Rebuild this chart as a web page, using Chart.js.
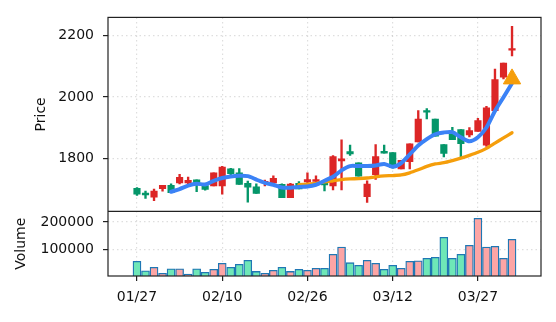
<!DOCTYPE html>
<html>
<head>
<meta charset="utf-8">
<script src="https://cdn.jsdelivr.net/npm/chart.js@4.4.1/dist/chart.umd.min.js"></script>
<style>
html, body { margin: 0; padding: 0; background: #fff; }
#wrap { width: 556px; height: 322px; }
</style>
</head>
<body>
<div id="wrap"><canvas id="myChart"></canvas></div>
<script>
// x tick positions (trading-day index) and their date labels
const tickPos = [0, 10, 20, 30, 40];
const tickLabels = ['01/27', '02/10', '02/26', '03/12', '03/27'];

// daily OHLC
const open  = [1701,1686,1672,1700,1711,1719,1719,1729,1710,1709,1709,1765,1752,1718,1706,1719,1719,1714,1671,1718,1722,1724,1725,1709,1791,1821,1785,1674,1746,1822,1818,1765,1788,1853,1955,1928,1844,1878,1893,1876,1887,1842,1955,2065,2153];
const close = [1682,1680,1692,1711,1687,1737,1727,1715,1698,1752,1771,1749,1714,1705,1685,1724,1734,1671,1715,1699,1730,1730,1712,1805,1798,1814,1741,1715,1805,1816,1770,1793,1847,1928,1950,1872,1815,1860,1847,1890,1923,1964,2057,2111,2157];
const high  = [1704,1692,1699,1711,1716,1747,1738,1729,1712,1752,1773,1767,1766,1725,1716,1728,1742,1716,1718,1723,1752,1742,1728,1808,1860,1843,1785,1726,1844,1843,1818,1793,1847,1955,1962,1928,1844,1901,1893,1900,1930,1969,2091,2111,2231];
const low   = [1678,1668,1661,1692,1687,1716,1716,1690,1695,1709,1682,1744,1714,1656,1685,1709,1716,1671,1671,1699,1719,1716,1693,1696,1696,1809,1741,1655,1730,1816,1767,1765,1765,1853,1928,1872,1804,1860,1805,1869,1887,1838,1955,2059,2134];
const volume = [58000,24000,36000,14500,31000,31000,12000,31000,18000,29000,50500,36000,47000,61500,21500,14500,25500,36000,21500,29000,25500,32500,32500,83000,109500,53000,43500,61500,50500,29000,43500,32500,58000,60000,68500,72500,144500,68500,83000,115500,213000,109500,112000,68500,137000];

// moving averages as drawn (5-day starts at index 4, 20-day at index 19)
const ma5Start = 4;
const ma5 = [1690,1699,1710,1716,1714,1726,1735,1740,1742,1741,1730,1719,1713,1704,1703,1706,1707,1713,1726,1739,1760,1774,1774,1774,1776,1781,1772,1784,1812,1841,1862,1878,1884,1885,1868,1855,1868,1900,1954,1999,2045];
const ma20Start = 19;
const ma20 = [1713,1715,1717,1722,1726,1730,1732,1733,1735,1739,1742,1743,1745,1752,1762,1773,1781,1785,1792,1800,1809,1819,1832,1849,1866,1883];

// signal marker
const signalIdx = 44;
const signalPrice = 2059;

const upColor = '#dc2626';
const downColor = '#059669';
const upVol = '#fca5a5';
const downVol = '#6ee7b7';

const isUp = open.map((o, i) => close[i] >= o);
const candleColors = isUp.map(u => u ? upColor : downColor);
const volColors = isUp.map(u => u ? upVol : downVol);

const font = { family: 'DejaVu Sans', size: 14 };
const gridColor = 'rgba(0,0,0,0.13)';

const gridOpts = {
    color: gridColor,
    lineWidth: 1.2,
    tickColor: '#222',
    tickLength: 5,
    tickWidth: 1.2,
    tickBorderDash: []
};

const framePlugin = {
    id: 'frame',
    afterDraw(chart) {
        const { ctx, chartArea: a } = chart;
        const sep = chart.scales.yPrice.bottom;
        ctx.save();
        ctx.strokeStyle = '#222';
        ctx.lineWidth = 1.2;
        ctx.strokeRect(a.left, a.top, a.right - a.left, a.bottom - a.top);
        ctx.beginPath();
        ctx.moveTo(a.left, sep);
        ctx.lineTo(a.right, sep);
        ctx.stroke();
        ctx.restore();
    }
};

let data = {
    datasets: [
        {
            type: 'scatter',
            order: 0,
            yAxisID: 'yPrice',
            data: [{ x: signalIdx, y: signalPrice }],
            pointStyle: 'triangle',
            pointRadius: 10,
            backgroundColor: '#f59e0b',
            borderColor: '#f59e0b',
            borderWidth: 1
        },
        {
            type: 'line',
            order: 1,
            yAxisID: 'yPrice',
            data: ma5.map((v, i) => ({ x: i + ma5Start, y: v })),
            borderColor: '#3b82f6',
            borderWidth: 4,
            pointRadius: 0,
            tension: 0.25,
            borderCapStyle: 'round',
            borderJoinStyle: 'round'
        },
        {
            type: 'line',
            order: 2,
            yAxisID: 'yPrice',
            data: ma20.map((v, i) => ({ x: i + ma20Start, y: v })),
            borderColor: '#f59e0b',
            borderWidth: 3.3,
            pointRadius: 0,
            tension: 0.25,
            borderCapStyle: 'round',
            borderJoinStyle: 'round'
        },
        {
            type: 'bar',
            order: 3,
            yAxisID: 'yPrice',
            grouped: false,
            data: open.map((o, i) => ({ x: i, y: [o, close[i]] })),
            backgroundColor: candleColors,
            barThickness: 6.5,
            minBarLength: 1.5
        },
        {
            type: 'bar',
            order: 4,
            yAxisID: 'yPrice',
            grouped: false,
            data: low.map((l, i) => ({ x: i, y: [l, high[i]] })),
            backgroundColor: candleColors,
            barThickness: 1.7
        },
        {
            type: 'bar',
            order: 5,
            yAxisID: 'yVol',
            grouped: false,
            data: volume.map((v, i) => ({ x: i, y: v })),
            backgroundColor: volColors,
            borderColor: '#1f77b4',
            borderWidth: 1.3,
            barThickness: 8
        }
    ]
};

let config = {
    type: 'bar',
    data: data,
    options: {
        responsive: true,
        maintainAspectRatio: false,
        animation: false,
        layout: { padding: { left: 0, right: 15, top: 15, bottom: 0 } },
        plugins: { legend: { display: false }, tooltip: { enabled: false } },
        scales: {
            x: {
                type: 'linear',
                min: -3.4,
                max: 47.4,
                offset: false,
                afterBuildTicks: s => { s.ticks = tickPos.map(v => ({ value: v })); },
                afterFit: s => { s.height = 46; },
                ticks: {
                    font: font,
                    color: '#111',
                    padding: 8,
                    maxRotation: 0,
                    autoSkip: false,
                    callback: v => tickLabels[tickPos.indexOf(v)]
                },
                grid: Object.assign({ offset: false }, gridOpts),
                border: { display: false, dash: [1.5, 3] }
            },
            yVol: {
                type: 'linear',
                position: 'left',
                stack: 'panes',
                stackWeight: 1,
                min: 5000,
                max: 238000,
                afterBuildTicks: s => { s.ticks = [100000, 200000].map(v => ({ value: v })); },
                afterFit: s => { s.width = 108; },
                ticks: { font: font, color: '#111', padding: 9, callback: v => String(v) },
                title: { display: true, text: 'Volume', font: font, color: '#111', padding: { top: 12.5, bottom: 0 } },
                grid: gridOpts,
                border: { display: false, dash: [1.5, 3] }
            },
            yPrice: {
                type: 'linear',
                position: 'left',
                stack: 'panes',
                stackWeight: 3,
                min: 1626,
                max: 2260,
                afterBuildTicks: s => { s.ticks = [1800, 2000, 2200].map(v => ({ value: v })); },
                afterFit: s => { s.width = 108; },
                ticks: { font: font, color: '#111', padding: 9, callback: v => String(v) },
                title: { display: true, text: 'Price', font: font, color: '#111', padding: { top: 33, bottom: 0 } },
                grid: gridOpts,
                border: { display: false, dash: [1.5, 3] }
            }
        }
    },
    plugins: [framePlugin]
};

let myChart = new Chart(document.getElementById('myChart'), config);
</script>
</body>
</html>
